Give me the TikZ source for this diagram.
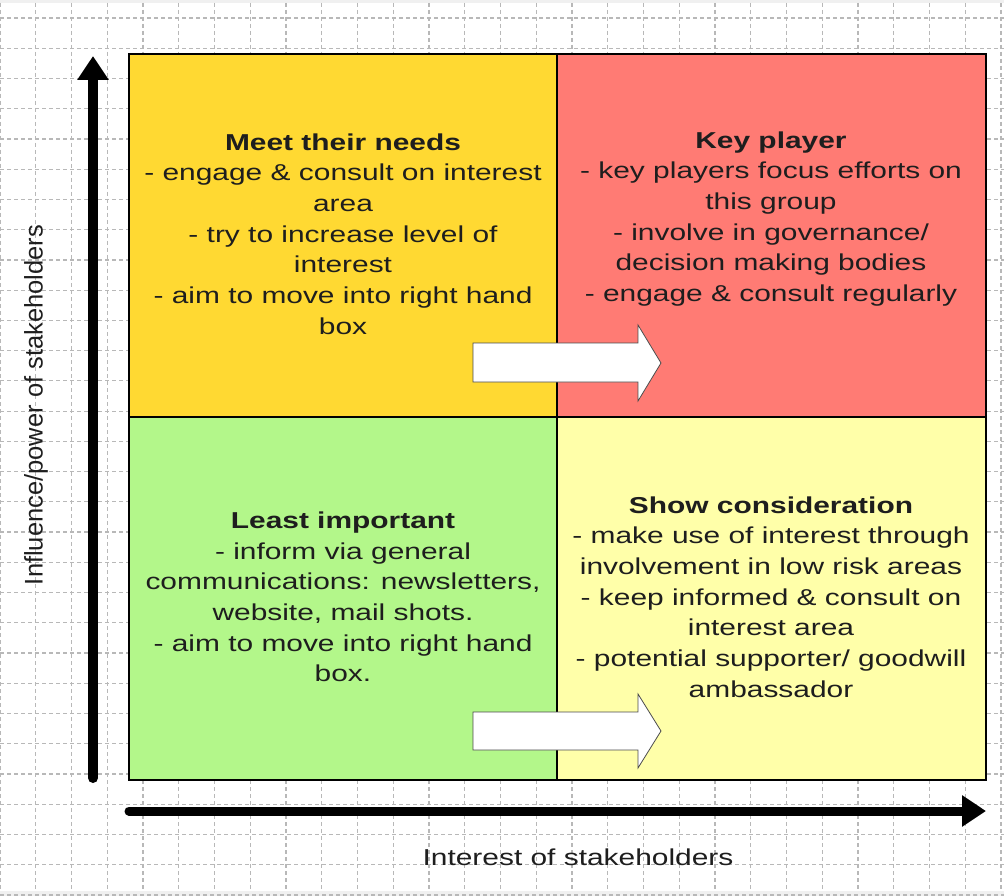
\documentclass[tikz,border=0pt]{standalone}
\usepackage{fontspec}
\setmainfont{Liberation Sans}[FakeStretch=1.3]
\newfontfamily\axisfont{Liberation Sans}
\usetikzlibrary{arrows.meta}
\definecolor{qyellow}{HTML}{FFD932}
\definecolor{qred}{HTML}{FF7B74}
\definecolor{qgreen}{HTML}{B3F78A}
\definecolor{qlight}{HTML}{FFFFA9}
\definecolor{gridc}{HTML}{B8B8B8}
\definecolor{txt}{HTML}{1E1E1E}
\tikzset{
  gridline/.style={gridc, line width=1.2pt, dash pattern=on 4pt off 3pt},
  quad/.style={draw=black, line width=1.5pt},
  body/.style={align=center, text=txt, font=\fontsize{23}{30.7}\selectfont, inner sep=0pt},
  blockarrow/.style={fill=white, draw=black!70, line width=0.8pt},
  axis/.style={line width=10pt, -{Triangle[length=24pt,width=30pt]}, line cap=round},
}
\begin{document}
\begin{tikzpicture}[x=1pt,y=-1pt]
\useasboundingbox (0,0) rectangle (1004,896);
\fill[white] (0,0) rectangle (1004,896);
\fill[black!6] (0,891) rectangle (1004,896);
\fill[black!6] (0,0) rectangle (1004,3);
% grid
\foreach \k in {0,...,28} \draw[gridline] ({35.75*\k},3) -- ({35.75*\k},891);
\foreach \k in {0,...,29} \draw[gridline] (0,{18+30.24*\k}) -- (1004,{18+30.24*\k});
% quadrants
\path[quad, fill=qyellow] (129,54) rectangle (557,417);
\path[quad, fill=qred] (557,54) rectangle (986,417);
\path[quad, fill=qgreen] (129,417) rectangle (557,780);
\path[quad, fill=qlight] (557,417) rectangle (986,780);
% block arrows
\draw[blockarrow] (473,343) -- (638,343) -- (638,325) -- (661,363) -- (638,401) -- (638,382) -- (473,382) -- cycle;
\draw[blockarrow] (473,712) -- (638,712) -- (638,694) -- (661,731) -- (638,768) -- (638,750) -- (473,750) -- cycle;
% texts
\node[body] (ul) at (343,234) {\textbf{Meet their needs}\\- engage \& consult on interest\\area\\- try to increase level of\\interest\\- aim to move into right hand\\box};
\node[body] (ur) at (771,219) {\textbf{Key player}\\- key players focus efforts on\\this group\\- involve in governance/\\decision making bodies\\- engage \& consult regularly};
\node[body] (ll) at (343,597) {\textbf{Least important}\\- inform via general\\communications: newsletters,\\website, mail shots.\\- aim to move into right hand\\box.};
\node[body] (lr) at (771,597) {\textbf{Show consideration}\\- make use of interest through\\involvement in low risk areas\\- keep informed \& consult on\\interest area\\- potential supporter/ goodwill\\ambassador};
% axes
\coordinate (ybot) at (93,778);
\coordinate (ytop) at (93,56);
\coordinate (xleft) at (129,811);
\coordinate (xright) at (986,811);
\draw[axis] (ybot) -- (ytop);
\draw[axis, line width=9pt] (xleft) -- (xright);
\node[text=txt, font=\axisfont\fontsize{25.5}{28}\selectfont, rotate=90, inner sep=0pt] (ylab) at (36,405) {Influence/power of stakeholders};
\node[text=txt, font=\fontsize{23}{28}\selectfont, inner sep=0pt] (xlab) at (578,857) {Interest of stakeholders};
\end{tikzpicture}
\end{document}
